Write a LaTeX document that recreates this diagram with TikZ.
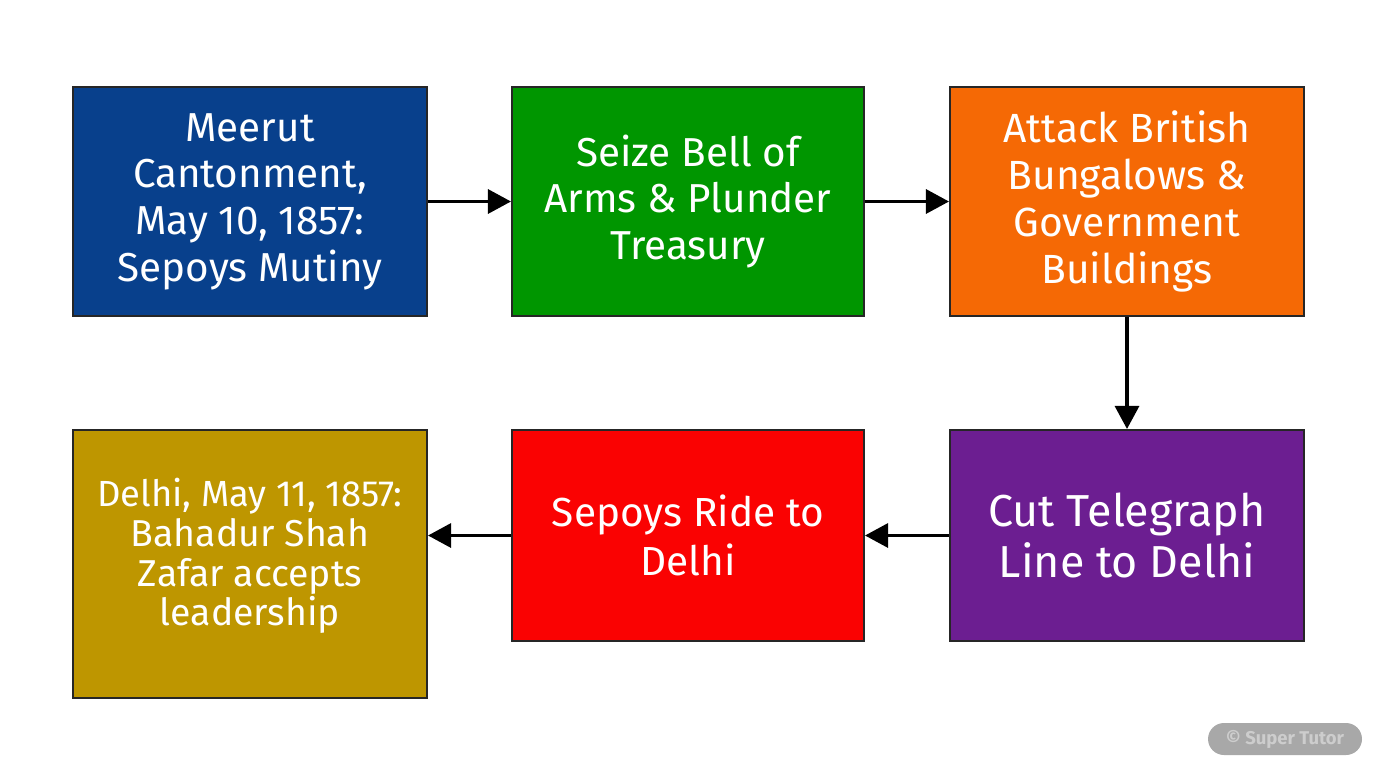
\documentclass[tikz,border=0pt]{standalone}
\usepackage{fontspec}
\setmainfont{Fira Sans}
\usetikzlibrary{arrows.meta}
\definecolor{cblue}{RGB}{8,64,140}
\definecolor{cgreen}{RGB}{0,150,0}
\definecolor{corange}{RGB}{245,105,5}
\definecolor{cpurple}{RGB}{108,30,145}
\definecolor{cred}{RGB}{250,2,2}
\definecolor{cgold}{RGB}{190,150,0}
\definecolor{wmfill}{RGB}{168,168,168}
\definecolor{wmtext}{RGB}{205,205,205}
\tikzset{
  stepbox/.style={draw=black!85, line width=1.2pt, text=white, align=center, inner sep=0pt},
  flow/.style={line width=1.8pt, -{Triangle[length=0.46cm,width=0.48cm]}}
}
\begin{document}
\begin{tikzpicture}[x=0.02cm,y=-0.02cm]
\useasboundingbox (0,0) rectangle (1376,768);
\fill[white] (0,0) rectangle (1376,768);
\node[stepbox, fill=cblue, minimum width=7.08cm, minimum height=4.58cm, font=\fontsize{23}{26.6}\selectfont] (b1) at (250,201.5) {Meerut\\Cantonment,\\May 10, 1857:\\Sepoys Mutiny};
\node[stepbox, fill=cgreen, minimum width=7.04cm, minimum height=4.58cm, font=\fontsize{23}{26.6}\selectfont] (b2) at (688,201.5) {Seize Bell of\\Arms \& Plunder\\Treasury};
\node[stepbox, fill=corange, minimum width=7.08cm, minimum height=4.58cm, font=\fontsize{23.2}{26.6}\selectfont] (b3) at (1127,201.5) {Attack British\\Bungalows \&\\Government\\Buildings};
\node[stepbox, fill=cpurple, minimum width=7.08cm, minimum height=4.22cm, font=\fontsize{25.5}{29.5}\selectfont] (b4) at (1127,535.5) {Cut Telegraph\\Line to Delhi};
\node[stepbox, fill=cred, minimum width=7.04cm, minimum height=4.22cm, font=\fontsize{23.1}{28.3}\selectfont] (b5) at (688,535.5) {Sepoys Ride to\\Delhi};
\node[stepbox, fill=cgold, minimum width=7.08cm, minimum height=5.36cm] (b6) at (250,564) {};
\node[text=white, align=center, font=\fontsize{21.3}{22.6}\selectfont] (t6) at (250,556) {{\fontsize{20.7}{22.6}\selectfont Delhi, May 11, 1857:}\\Bahadur Shah\\Zafar accepts\\leadership};
\draw[flow] (b1) -- (b2);
\draw[flow] (b2) -- (b3);
\draw[flow] (b3) -- (b4);
\draw[flow] (b4) -- (b5);
\draw[flow] (b5.west) -- (b5.west -| b6.east);
\node[fill=wmfill, rounded corners=0.32cm, minimum width=3.08cm, minimum height=0.64cm, inner sep=0pt, text=wmtext, font=\fontsize{10.5}{12}\selectfont\bfseries] (wm) at (1285,739) {\textcopyright{} Super Tutor};
\end{tikzpicture}
\end{document}
